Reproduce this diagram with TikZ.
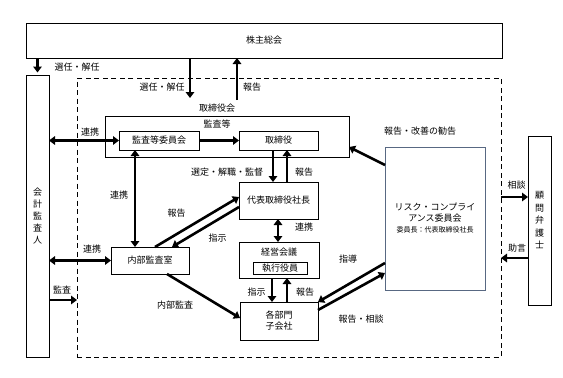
\documentclass[tikz,border=0pt]{standalone}
\usepackage{fontspec}
\setmainfont{Noto Sans CJK JP}
\usetikzlibrary{arrows.meta}

\begin{document}
\begin{tikzpicture}[
    x=1pt, y=-1pt,
    font=\fontsize{9}{11}\selectfont,
    box/.style={draw, line width=0.9pt, inner sep=0pt, outer sep=0pt, align=center},
    vbox/.style={box, font=\fontsize{9}{12}\selectfont},
    riskbox/.style={box, draw={rgb,255:red,88;green,104;blue,130}},
    frame/.style={draw, line width=1pt, dash pattern=on 5pt off 3.5pt, inner sep=0pt, outer sep=0pt},
    lbl/.style={inner sep=0pt},
    arr/.style={line width=2.6pt, -{Triangle[length=6pt,width=8.5pt]}},
    darr/.style={line width=2.6pt, {Triangle[length=6pt,width=8.5pt]}-{Triangle[length=6pt,width=8.5pt]}}
  ]
  \useasboundingbox (0,0) rectangle (563,378);

% --- Outer boxes ---
  \node[box, minimum width=476pt, minimum height=35pt] (soukai) at (264,40.5) {株主総会};
  \node[vbox, minimum width=23pt, minimum height=282pt] (kansa) at (37.5,216) {会\\計\\監\\査\\人};
  \node[frame, minimum width=424pt, minimum height=279pt] (company) at (289,217.5) {};
  \node[vbox, minimum width=23pt, minimum height=169pt, font=\fontsize{9}{12.5}\selectfont] (komon) at (539.5,220.5) {顧\\問\\弁\\護\\士};

% --- Board of directors ---
  \node[box, minimum width=244pt, minimum height=41pt] (torikai) at (227,136.5) {};
  \node[lbl] (torikaiLbl) at (217,108) {取締役会};
  \node[lbl] (kansatoLbl) at (217,124) {監査等};
  \node[box, minimum width=80pt, minimum height=19pt] (iinkai) at (159,140.5) {監査等委員会};
  \node[box, minimum width=79pt, minimum height=19pt] (tori) at (278.5,140.5) {取締役};

% --- Executive side ---
  \node[box, minimum width=79pt, minimum height=37pt] (daihyo) at (278.5,200.5) {代表取締役社長};
  \node[box, minimum width=80pt, minimum height=36pt] (keiei) at (279,260) {};
  \node[lbl] (keieiLbl) at (279,252.5) {経営会議};
  \node[box, minimum width=54pt, minimum height=12pt] (shikko) at (280,268) {執行役員};
  \node[box, minimum width=78pt, minimum height=38pt] (kakubu) at (279,321) {各部門\\子会社};
  \node[box, minimum width=78pt, minimum height=27pt] (naibu) at (150,260.5) {内部監査室};
  \node[riskbox, minimum width=100pt, minimum height=143pt] (risk) at (435,218.5)
    {リスク・コンプライ\\アンス委員会\\{\fontsize{7}{8}\selectfont 委員長：代表取締役社長}};

% --- Shareholders meeting ---
  \coordinate (selA) at (190,98);
  \coordinate (repA) at (237,100);
  \draw[arr, shorten >=2.5pt] (soukai.south -| kansa) -- (kansa.north);
  \draw[arr] (soukai.south -| selA) -- (selA);
  \draw[arr] (repA) -- (repA |- soukai.south);
  \node[lbl] (sel1) at (77,67) {選任・解任};
  \node[lbl] (sel2) at (162,87) {選任・解任};
  \node[lbl] (rep1) at (252,87) {報告};

% --- Audit links ---
  \draw[darr] (kansa.east |- iinkai) -- (iinkai.west);
  \draw[arr] (iinkai) -- (tori);
  \draw[darr] ([xshift=-24pt]iinkai.south) -- ([xshift=-15pt]naibu.north);
  \draw[darr] (kansa.east |- naibu) -- (naibu.west);
  \coordinate (auditL) at ([yshift=-84pt]kansa.east);
  \draw[arr] (auditL) -- (auditL -| company.west);
  \node[lbl] (ren1) at (90,132) {連携};
  \node[lbl] (ren2) at (119,195) {連携};
  \node[lbl] (ren3) at (92,249) {連携};
  \node[lbl] (audit) at (62,290) {監査};

% --- Chain of command ---
  \draw[arr] ([xshift=-5.5pt]tori.south) -- ([xshift=-5.5pt]daihyo.north);
  \draw[arr] ([xshift=8.5pt]daihyo.north) -- ([xshift=8.5pt]tori.south);
  \draw[darr] ([xshift=-0.5pt]daihyo.south) -- ([xshift=-1pt]keiei.north);
  \draw[arr] ([xshift=-7pt]keiei.south) -- ([xshift=-7pt]kakubu.north);
  \draw[arr] ([xshift=8pt]kakubu.north) -- ([xshift=8pt]keiei.south);
  \node[lbl] (senteiLbl) at (227,172) {選定・解職・監督};
  \node[lbl] (rep2) at (304,172) {報告};
  \node[lbl] (ren4) at (304,227) {連携};
  \node[lbl] (shiji2) at (256.5,292) {指示};
  \node[lbl] (rep3) at (305,292) {報告};

% --- Internal audit office ---
  \draw[arr] ([xshift=5pt]naibu.north) -- ([yshift=3.5pt]daihyo.west);
  \draw[arr] ([yshift=-6.5pt]daihyo.west) -- ([xshift=22pt]naibu.north);
  \draw[arr] ([xshift=17pt]naibu.south) -- ([yshift=3pt]kakubu.west);
  \node[lbl] (rep4) at (176.5,213) {報告};
  \node[lbl] (shiji1) at (217.5,238) {指示};
  \node[lbl] (naibuLbl) at (175,305) {内部監査};

% --- Risk and compliance committee ---
  \draw[arr] ([yshift=-18pt]risk.north west) -- ([yshift=-10.5pt]torikai.east);
  \draw[arr] ([yshift=-44.5pt]risk.west) -- ([yshift=19pt]kakubu.east);
  \draw[arr] ([yshift=11pt]kakubu.east) -- ([yshift=-54.5pt]risk.west);
  \node[lbl] (kankoku) at (420,131) {報告・改善の勧告};
  \node[lbl] (shidou) at (348,259) {指導};
  \node[lbl] (soudanLbl) at (361,319) {報告・相談};

% --- Legal counsel ---
  \coordinate (consult) at ([yshift=23.5pt]komon.west);
  \coordinate (advice) at ([yshift=-37.5pt]komon.west);
  \draw[arr] (consult -| company.east) -- (consult);
  \draw[arr] (advice) -- (advice -| company.east);
  \node[lbl] (sou) at (516.5,185) {相談};
  \node[lbl] (jogen) at (517,248) {助言};
\end{tikzpicture}
\end{document}
